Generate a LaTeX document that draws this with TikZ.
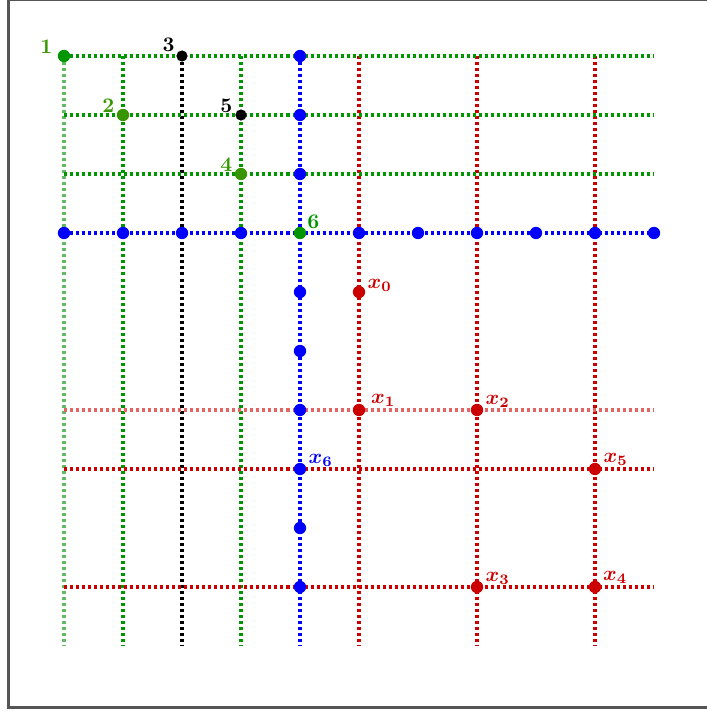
\documentclass[tikz,border=0pt]{standalone}
\definecolor{gr}{RGB}{0,150,0}
\definecolor{lgr}{RGB}{100,185,100}
\definecolor{olv}{RGB}{55,150,0}
\definecolor{rd}{RGB}{204,0,0}
\definecolor{lrd}{RGB}{228,100,100}
\definecolor{bl}{RGB}{0,0,255}
\definecolor{frm}{RGB}{85,85,85}
\tikzset{
  gl/.style={line width=1.65pt, dash pattern=on 1.45pt off 1.45pt},
  pt/.style={circle, fill, inner sep=0pt, minimum size=0.21cm},
  bpt/.style={pt, black, minimum size=0.19cm},
  lb/.style={inner sep=0pt, font=\boldmath\bfseries},
  numl/.style={lb, anchor=base east},
  xl/.style={lb, anchor=base west},
}
\begin{document}
\begin{tikzpicture}
\useasboundingbox (-1.0847,0.9492) rectangle (10.8814,-11.1017);
% frame
\draw[frm, line width=1.5pt] (11.5,0.96) -- (-0.94,0.96) -- (-0.94,-11.04) -- (11.5,-11.04);
% vertical lines
\draw[gl, lgr] (0,0) -- (0,-10);
\draw[gl, gr] (1,0) -- (1,-10);
\draw[gl, black] (2,0) -- (2,-10);
\draw[gl, gr] (3,0) -- (3,-10);
\draw[gl, bl] (4,0) -- (4,-10);
\draw[gl, rd] (5,0) -- (5,-10);
\draw[gl, rd] (7,0) -- (7,-10);
\draw[gl, rd] (9,0) -- (9,-10);
% horizontal lines
\draw[gl, gr] (0,0) -- (10,0);
\draw[gl, gr] (0,-1) -- (10,-1);
\draw[gl, gr] (0,-2) -- (10,-2);
\draw[gl, bl] (0,-3) -- (10,-3);
\draw[gl, lrd] (0,-6) -- (10,-6);
\draw[gl, rd] (0,-7) -- (10,-7);
\draw[gl, rd] (0,-9) -- (10,-9);
% blue points, row 3
\foreach \c in {0,1,2,3,5,6,7,8,9,10} \node[pt, bl] (br\c) at (\c,-3) {};
% blue points, column 4
\foreach \r in {0,1,2,4,5,6,8,9} \node[pt, bl] (bc\r) at (4,-\r) {};
% numbered points
\node[pt, gr] (n1) at (0,0) {};
\node[bpt] (n3) at (2,0) {};
\node[pt, olv] (n2) at (1,-1) {};
\node[bpt] (n5) at (3,-1) {};
\node[pt, olv] (n4) at (3,-2) {};
\node[pt, gr] (n6) at (4,-3) {};
% x points
\node[pt, rd] (x0) at (5,-4) {};
\node[pt, rd] (x1) at (5,-6) {};
\node[pt, rd] (x2) at (7,-6) {};
\node[pt, rd] (x3) at (7,-9) {};
\node[pt, rd] (x4) at (9,-9) {};
\node[pt, rd] (x5) at (9,-7) {};
\node[pt, bl] (x6) at (4,-7) {};
% labels
\node[numl, olv] (t1) at ([shift={(-0.19,0.05)}]n1.center) {1};
\node[numl, black] (t3) at ([shift={(-0.12,0.07)}]n3.center) {3};
\node[numl, olv] (t2) at ([shift={(-0.14,0.04)}]n2.center) {2};
\node[numl, black] (t5) at ([shift={(-0.14,0.04)}]n5.center) {5};
\node[numl, olv] (t4) at ([shift={(-0.14,0.05)}]n4.center) {4};
\node[xl, gr] (t6) at ([shift={(0.12,0.08)}]n6.center) {6};
\node[xl, rd] (lx0) at ([shift={(0.14,0.06)}]x0.center) {$x_0$};
\node[xl, rd] (lx1) at ([shift={(0.2,0.11)}]x1.center) {$x_1$};
\node[xl, rd] (lx2) at ([shift={(0.14,0.1)}]x2.center) {$x_2$};
\node[xl, rd] (lx3) at ([shift={(0.14,0.1)}]x3.center) {$x_3$};
\node[xl, rd] (lx4) at ([shift={(0.13,0.11)}]x4.center) {$x_4$};
\node[xl, rd] (lx5) at ([shift={(0.14,0.11)}]x5.center) {$x_5$};
\node[xl, bl] (lx6) at ([shift={(0.14,0.09)}]x6.center) {$x_6$};
\end{tikzpicture}
\end{document}
